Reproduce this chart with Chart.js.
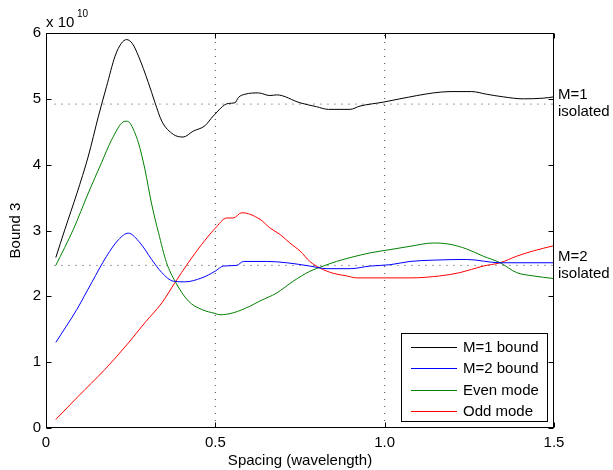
<!DOCTYPE html>
<html>
<head>
<meta charset="utf-8">
<script src="https://cdn.jsdelivr.net/npm/chart.js@4/dist/chart.umd.min.js"></script>
<style>
  html, body { margin: 0; padding: 0; background: #fff; }
  canvas { display: block; }
</style>
</head>
<body>
<canvas id="c" width="613" height="470"></canvas>
<script>
// values (y in units of 1e10)
var m1X = [0.029, 0.056, 0.091, 0.125, 0.155, 0.179, 0.204, 0.222, 0.238, 0.255, 0.273, 0.302, 0.322, 0.342, 0.376, 0.405, 0.435, 0.469, 0.494, 0.538, 0.558, 0.568, 0.588, 0.627, 0.661, 0.681, 0.750, 0.799, 0.834, 0.898, 0.927, 0.996, 1.045, 1.144, 1.193, 1.257, 1.301, 1.350, 1.409, 1.468, 1.5];
var m1Y = [2.59, 3.02, 3.56, 4.13, 4.74, 5.19, 5.65, 5.84, 5.90, 5.84, 5.65, 5.25, 4.94, 4.66, 4.46, 4.42, 4.51, 4.59, 4.74, 4.93, 4.94, 5.02, 5.07, 5.09, 5.05, 5.06, 4.94, 4.88, 4.84, 4.84, 4.89, 4.95, 5.00, 5.09, 5.11, 5.11, 5.07, 5.03, 5.00, 5.01, 5.03];

var m2X = [0.029, 0.091, 0.135, 0.179, 0.214, 0.243, 0.278, 0.312, 0.342, 0.376, 0.410, 0.460, 0.499, 0.524, 0.563, 0.583, 0.652, 0.711, 0.779, 0.829, 0.898, 0.957, 1.016, 1.075, 1.144, 1.242, 1.341, 1.5];
var m2Y = [1.30, 1.80, 2.21, 2.61, 2.86, 2.96, 2.81, 2.56, 2.36, 2.23, 2.22, 2.28, 2.38, 2.46, 2.47, 2.53, 2.53, 2.51, 2.46, 2.42, 2.42, 2.46, 2.48, 2.53, 2.55, 2.56, 2.51, 2.51];

var evenX = [0.029, 0.081, 0.125, 0.164, 0.194, 0.228, 0.238, 0.248, 0.273, 0.292, 0.312, 0.332, 0.356, 0.381, 0.420, 0.460, 0.499, 0.514, 0.553, 0.602, 0.632, 0.681, 0.730, 0.779, 0.819, 0.858, 0.907, 0.957, 1.016, 1.075, 1.144, 1.193, 1.242, 1.291, 1.341, 1.390, 1.439, 1.5];
var evenY = [2.47, 3.02, 3.57, 4.03, 4.38, 4.65, 4.66, 4.63, 4.33, 3.93, 3.40, 2.97, 2.51, 2.23, 1.93, 1.80, 1.74, 1.72, 1.75, 1.85, 1.93, 2.05, 2.23, 2.38, 2.46, 2.53, 2.60, 2.66, 2.71, 2.76, 2.81, 2.79, 2.72, 2.61, 2.51, 2.36, 2.31, 2.27];

var oddX = [0.029, 0.095, 0.174, 0.243, 0.292, 0.342, 0.381, 0.420, 0.460, 0.499, 0.534, 0.553, 0.578, 0.632, 0.661, 0.691, 0.720, 0.750, 0.779, 0.809, 0.848, 0.888, 0.917, 1.075, 1.163, 1.222, 1.291, 1.341, 1.390, 1.439, 1.5];
var oddY = [0.13, 0.48, 0.89, 1.29, 1.60, 1.90, 2.21, 2.51, 2.79, 3.03, 3.19, 3.19, 3.27, 3.17, 3.04, 2.94, 2.81, 2.69, 2.53, 2.43, 2.35, 2.31, 2.28, 2.28, 2.31, 2.36, 2.46, 2.51, 2.61, 2.69, 2.77];

var seriesNames = ["M=1 bound", "M=2 bound", "Even mode", "Odd mode"];
var seriesColors = ["#000000", "#0000ff", "#008000", "#ff0000"];

var isoLevels = [4.92, 2.47];          // M=1 isolated, M=2 isolated
var isoLabels = [["M=1", "isolated"], ["M=2", "isolated"]];
var isoStart = 0.025;
var gridX = [0.5, 1];

var xTicks = [0, 0.5, 1, 1.5];
var yTicks = [0, 1, 2, 3, 4, 5, 6];

var FONT = "'Liberation Sans', Arial, Helvetica, sans-serif";

function pts(xs, ys) {
  return xs.map(function (x, i) { return { x: x, y: ys[i] }; });
}

var dotted = { borderColor: "#444", borderWidth: 1, borderDash: [1, 6], pointRadius: 0, showLine: true, fill: false };

var datasets = [
  { label: seriesNames[0], data: pts(m1X, m1Y) },
  { label: seriesNames[1], data: pts(m2X, m2Y) },
  { label: seriesNames[2], data: pts(evenX, evenY) },
  { label: seriesNames[3], data: pts(oddX, oddY) }
].map(function (d, i) {
  d.borderColor = seriesColors[i];
  d.borderWidth = 1;
  d.pointRadius = 0;
  d.showLine = true;
  d.cubicInterpolationMode = "monotone";
  return d;
});

isoLevels.forEach(function (v) {
  datasets.push(Object.assign({}, dotted, { data: [{ x: isoStart, y: v }, { x: 1.5, y: v }] }));
});
gridX.forEach(function (v) {
  datasets.push(Object.assign({}, dotted, { data: [{ x: v, y: 0 }, { x: v, y: 6 }] }));
});

var matlabFrame = {
  id: "matlabFrame",
  afterDraw: function (chart) {
    var ctx = chart.ctx, a = chart.chartArea;
    var xs = chart.scales.x, ys = chart.scales.y;
    var L = Math.round(a.left) + 0.5, R = Math.round(a.right) - 0.5;
    var T = Math.round(a.top) + 0.5, B = Math.round(a.bottom) - 0.5;
    ctx.save();
    ctx.strokeStyle = "#000";
    ctx.lineWidth = 1;
    ctx.strokeRect(L, T, R - L, B - T);

    // inward ticks on all four sides
    ctx.beginPath();
    yTicks.forEach(function (v) {
      var y = Math.round(ys.getPixelForValue(v)) + 0.5;
      ctx.moveTo(L, y); ctx.lineTo(L + 5, y);
      ctx.moveTo(R, y); ctx.lineTo(R - 5, y);
    });
    xTicks.forEach(function (v) {
      var x = Math.round(xs.getPixelForValue(v)) + 0.5;
      ctx.moveTo(x, B); ctx.lineTo(x, B - 5);
      ctx.moveTo(x, T); ctx.lineTo(x, T + 5);
    });
    ctx.stroke();

    // exponent
    ctx.fillStyle = "#000";
    ctx.textBaseline = "alphabetic";
    ctx.textAlign = "left";
    ctx.font = "15px " + FONT;
    ctx.fillText("x 10", 46, 27);
    ctx.font = "10px " + FONT;
    ctx.fillText("10", 77, 17);

    // axis titles
    ctx.font = "15px " + FONT;
    ctx.textAlign = "center";
    ctx.textBaseline = "middle";
    ctx.fillText("Spacing (wavelength)", (a.left + a.right) / 2, 461);
    ctx.save();
    ctx.translate(16, (a.top + a.bottom) / 2);
    ctx.rotate(-Math.PI / 2);
    ctx.fillText("Bound 3", 0, 0);
    ctx.restore();

    // right-hand labels for the isolated levels
    ctx.font = "15px " + FONT;
    ctx.textAlign = "left";
    isoLevels.forEach(function (v, i) {
      var y = ys.getPixelForValue(v);
      ctx.fillText(isoLabels[i][0], a.right + 4, y - 9);
      ctx.fillText(isoLabels[i][1], a.right + 4, y + 8);
    });

    // legend box
    var bx = 401.5, by = 333.5, bw = 146, bh = 88;
    ctx.fillStyle = "#fff";
    ctx.fillRect(bx, by, bw, bh);
    ctx.strokeStyle = "#000";
    ctx.strokeRect(bx, by, bw, bh);
    ctx.font = "15px " + FONT;
    ctx.textAlign = "left";
    seriesNames.forEach(function (name, i) {
      var y = 347 + i * 21.3;
      ctx.strokeStyle = seriesColors[i];
      ctx.beginPath();
      ctx.moveTo(411, Math.round(y) + 0.5);
      ctx.lineTo(457, Math.round(y) + 0.5);
      ctx.stroke();
      ctx.fillStyle = "#000";
      ctx.fillText(name, 463, y + 1);
    });
    ctx.restore();
  }
};

new Chart(document.getElementById("c"), {
  type: "scatter",
  data: { datasets: datasets },
  plugins: [matlabFrame],
  options: {
    responsive: false,
    animation: false,
    layout: { padding: { left: 0, top: 33, right: 59, bottom: 0 } },
    plugins: { legend: { display: false }, tooltip: { enabled: false } },
    scales: {
      x: {
        type: "linear", min: 0, max: 1.5,
        afterBuildTicks: function (s) { s.ticks = xTicks.map(function (v) { return { value: v }; }); },
        afterFit: function (s) { s.height = 42; },
        grid: { display: false, drawTicks: false },
        border: { display: false },
        ticks: { padding: 6, color: "#000", font: { family: FONT, size: 15 }, maxRotation: 0 }
      },
      y: {
        type: "linear", min: 0, max: 6,
        afterBuildTicks: function (s) { s.ticks = yTicks.map(function (v) { return { value: v }; }); },
        afterFit: function (s) { s.width = 46; },
        grid: { display: false, drawTicks: false },
        border: { display: false },
        ticks: { padding: 5, color: "#000", font: { family: FONT, size: 15 } }
      }
    }
  }
});
</script>
</body>
</html>
